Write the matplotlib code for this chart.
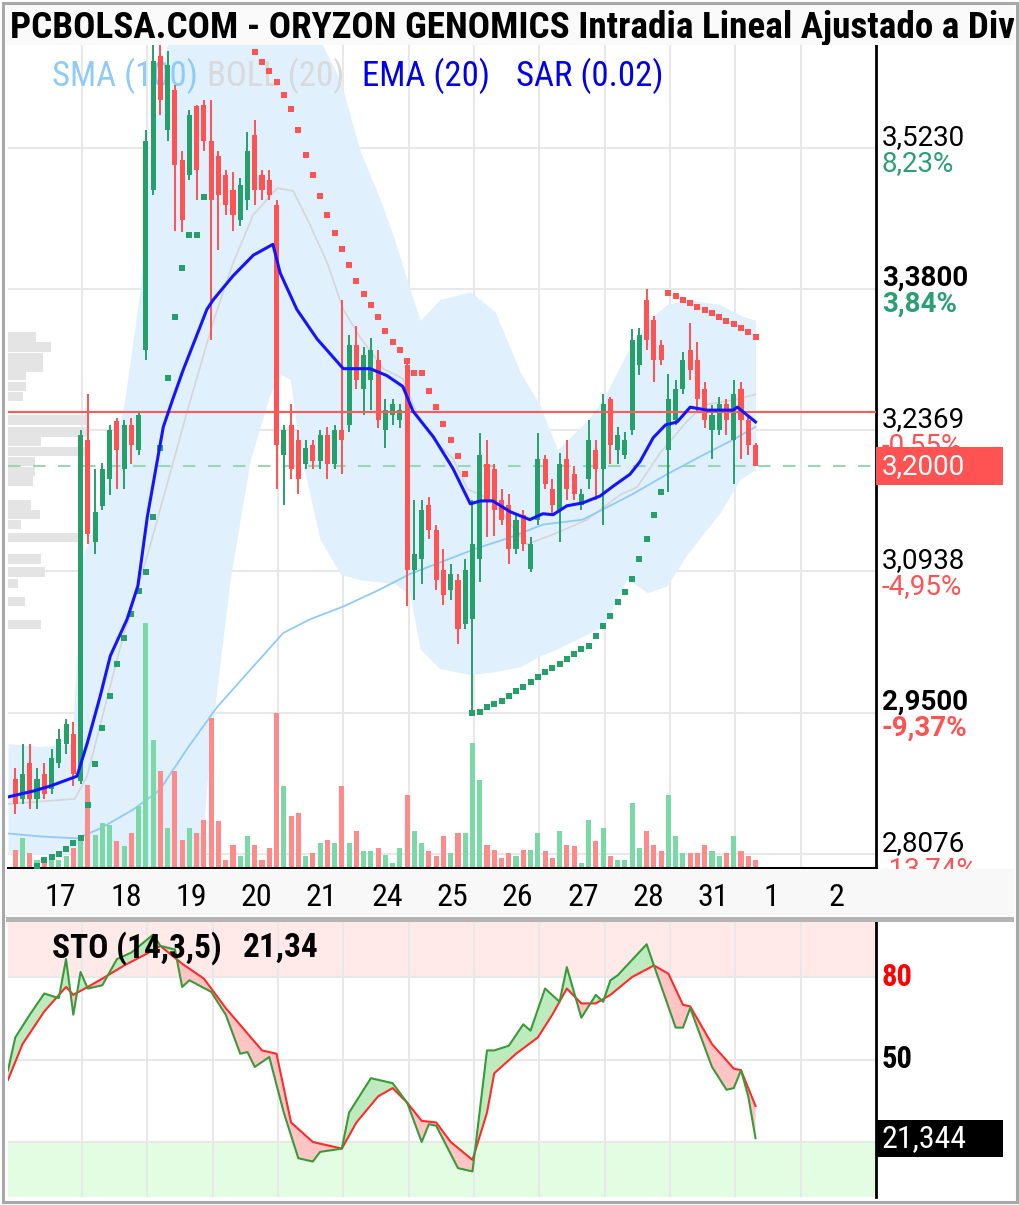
import numpy as np
import matplotlib
matplotlib.use("Agg")
import matplotlib.pyplot as plt
import matplotlib.transforms as mtransforms
from matplotlib.patches import Rectangle

plt.rcParams['font.family'] = ['Roboto', 'DejaVu Sans']
COND = ['Roboto Condensed', 'Roboto', 'DejaVu Sans']

TITLE = "PCBOLSA.COM - ORYZON GENOMICS Intradia Lineal Ajustado a Div"
DAYS = ['17', '18', '19', '20', '21', '24', '25', '26', '27', '28', '31', '1', '2']
BARS_PER_DAY = 9

# velas horarias (17 .. 1)
OPEN = [2.883, 2.863, 2.899, 2.863, 2.888, 2.873, 2.899, 2.919, 2.929,
        2.881, 3.227, 3.123, 3.160, 3.187, 3.246, 3.197, 3.242, 3.217,
        3.318, 3.480, 3.616, 3.541, 3.581, 3.510, 3.495, 3.565, 3.566,
        3.530, 3.515, 3.495, 3.480, 3.450, 3.470, 3.536, 3.495, 3.490,
        3.465, 3.212, 3.242, 3.227, 3.202, 3.222, 3.205, 3.232, 3.202,
        3.237, 3.242, 3.323, 3.278, 3.288, 3.308, 3.237, 3.252, 3.247,
        3.303, 3.095, 3.106, 3.161, 3.136, 3.095, 3.075, 3.085, 3.040,
        3.045, 3.106, 3.202, 3.197, 3.166, 3.161, 3.116, 3.151, 3.096,
        3.146, 3.207, 3.177, 3.156, 3.207, 3.192, 3.161, 3.187, 3.217,
        3.197, 3.268, 3.217, 3.212, 3.237, 3.303, 3.369, 3.348, 3.323,
        3.217, 3.247, 3.278, 3.318, 3.308, 3.278, 3.237, 3.237, 3.263,
        3.227, 3.278, 3.247, 3.222]
HIGH = [2.894, 2.919, 2.919, 2.894, 2.899, 2.914, 2.934, 2.944, 2.941,
        3.237, 3.273, 3.197, 3.203, 3.242, 3.249, 3.247, 3.249, 3.255,
        3.541, 3.640, 3.640, 3.621, 3.586, 3.520, 3.561, 3.566, 3.571,
        3.571, 3.520, 3.500, 3.498, 3.492, 3.539, 3.551, 3.500, 3.500,
        3.470, 3.242, 3.263, 3.237, 3.227, 3.227, 3.237, 3.240, 3.242,
        3.369, 3.333, 3.342, 3.321, 3.330, 3.318, 3.268, 3.268, 3.263,
        3.308, 3.166, 3.166, 3.169, 3.141, 3.116, 3.101, 3.091, 3.106,
        3.166, 3.234, 3.227, 3.202, 3.177, 3.172, 3.153, 3.156, 3.128,
        3.234, 3.212, 3.187, 3.214, 3.227, 3.200, 3.177, 3.247, 3.227,
        3.273, 3.270, 3.240, 3.235, 3.339, 3.340, 3.380, 3.352, 3.328,
        3.294, 3.288, 3.316, 3.345, 3.326, 3.286, 3.262, 3.270, 3.268,
        3.288, 3.286, 3.251, 3.224]
LOW = [2.848, 2.858, 2.853, 2.853, 2.863, 2.868, 2.894, 2.909, 2.876,
       2.878, 3.121, 3.111, 3.156, 3.171, 3.177, 3.177, 3.202, 3.212,
       3.308, 3.475, 3.556, 3.530, 3.439, 3.437, 3.490, 3.470, 3.520,
       3.328, 3.419, 3.455, 3.439, 3.444, 3.460, 3.465, 3.470, 3.470,
       3.177, 3.161, 3.187, 3.172, 3.197, 3.197, 3.197, 3.187, 3.197,
       3.192, 3.235, 3.278, 3.252, 3.257, 3.239, 3.219, 3.242, 3.239,
       3.058, 3.065, 3.081, 3.126, 3.075, 3.060, 3.065, 3.020, 3.035,
       2.952, 3.083, 3.128, 3.129, 3.141, 3.101, 3.111, 3.114, 3.093,
       3.141, 3.177, 3.151, 3.123, 3.166, 3.166, 3.156, 3.177, 3.166,
       3.141, 3.202, 3.202, 3.207, 3.232, 3.293, 3.318, 3.285, 3.303,
       3.174, 3.242, 3.273, 3.288, 3.255, 3.239, 3.207, 3.232, 3.232,
       3.182, 3.207, 3.212, 3.200]
CLOSE = [2.858, 2.888, 2.863, 2.883, 2.868, 2.904, 2.924, 2.939, 2.888,
         3.232, 3.131, 3.154, 3.197, 3.237, 3.217, 3.242, 3.222, 3.252,
         3.530, 3.611, 3.571, 3.607, 3.505, 3.450, 3.556, 3.500, 3.530,
         3.470, 3.475, 3.465, 3.455, 3.485, 3.520, 3.480, 3.480, 3.475,
         3.222, 3.237, 3.197, 3.187, 3.219, 3.205, 3.232, 3.202, 3.237,
         3.227, 3.323, 3.288, 3.313, 3.318, 3.247, 3.257, 3.263, 3.257,
         3.095, 3.111, 3.156, 3.136, 3.085, 3.070, 3.091, 3.035, 3.095,
         3.121, 3.212, 3.166, 3.156, 3.146, 3.116, 3.146, 3.121, 3.121,
         3.207, 3.182, 3.161, 3.202, 3.177, 3.172, 3.172, 3.227, 3.197,
         3.263, 3.222, 3.232, 3.227, 3.328, 3.333, 3.328, 3.308, 3.308,
         3.268, 3.278, 3.308, 3.298, 3.268, 3.247, 3.252, 3.263, 3.247,
         3.273, 3.247, 3.222, 3.200]
VOLUME = [18, 30, 15, 8, 8, 10, 8, 12, 20,
          31, 83, 33, 45, 43, 27, 22, 35, 62,
          245, 128, 97, 40, 97, 28, 40, 35, 48,
          150, 47, 8, 23, 12, 32, 23, 8, 20,
          155, 82, 52, 55, 12, 15, 25, 28, 25,
          82, 25, 37, 17, 17, 20, 13, 5, 20,
          73, 37, 25, 17, 12, 32, 15, 35, 35,
          125, 88, 23, 18, 10, 15, 12, 18, 18,
          35, 17, 10, 37, 23, 22, 5, 48, 27,
          40, 12, 8, 8, 65, 20, 37, 23, 17,
          73, 32, 15, 15, 15, 23, 17, 12, 15,
          32, 17, 12, 8]

# SAR (0.02): primer indice de cada tramo y valores
SAR_UP1_START = 3
SAR_UP1 = [2.795, 2.801, 2.804, 2.807, 2.812, 2.818, 2.823, 2.857, 2.898, 2.935,
           2.967, 3.000, 3.026, 3.050, 3.074, 3.093, 3.149, 3.219, 3.290, 3.351,
           3.401, 3.434, 3.434, 3.473]
SAR_DN1_START = 33
SAR_DN1 = [3.620, 3.610, 3.601, 3.589, 3.576, 3.562, 3.541, 3.516, 3.495, 3.474,
           3.455, 3.436, 3.420, 3.404, 3.388, 3.375, 3.364, 3.351, 3.337, 3.326,
           3.318, 3.307, 3.295, 3.295, 3.276, 3.260, 3.243, 3.227, 3.211, 3.192]
SAR_UP2_START = 63
SAR_UP2 = [2.950, 2.951, 2.956, 2.959, 2.962, 2.967, 2.972, 2.976, 2.981, 2.987,
           2.992, 2.996, 3.000, 3.005, 3.010, 3.015, 3.018, 3.028, 3.038, 3.048,
           3.063, 3.073, 3.086, 3.106, 3.126, 3.151, 3.174]
SAR_DN2_START = 90
SAR_DN2 = [3.376, 3.373, 3.369, 3.366, 3.362, 3.358, 3.355, 3.351, 3.347, 3.344,
           3.340, 3.336, 3.331]

EMA_T = [-1.0, 2.5, 4.8, 8.5, 9.9, 11.7, 13.1, 15.4, 16.9, 18.2, 19.5, 20.4, 21.7,
         23.1, 25.5, 26.4, 27.3, 30.0, 32.8, 35.5, 36.5, 38.8, 41.6, 45.2, 48.9,
         51.2, 53.4, 54.8, 57.6, 60.3, 62.7, 64.1, 65.8, 68.2, 70.9, 72.7, 74.1,
         76.0, 78.2, 80.6, 82.4, 84.7, 86.1, 87.9, 89.6, 91.2, 93.0, 95.3, 98.9,
         99.5, 102.0]
EMA_V = [2.865, 2.871, 2.876, 2.886, 2.919, 2.967, 3.008, 3.045, 3.079, 3.149, 3.203,
         3.240, 3.268, 3.297, 3.342, 3.359, 3.369, 3.393, 3.414, 3.425, 3.396, 3.359,
         3.329, 3.299, 3.299, 3.292, 3.281, 3.256, 3.230, 3.198, 3.162, 3.165, 3.165,
         3.154, 3.146, 3.152, 3.151, 3.160, 3.163, 3.170, 3.180, 3.192, 3.205, 3.229,
         3.242, 3.245, 3.260, 3.257, 3.257, 3.260, 3.245]

SMA_T = [-1.0, 3.4, 8.5, 11.7, 16.2, 19.9, 23.7, 27.8, 32.4, 36.9, 40.6, 45.2,
         49.9, 54.4, 59.0, 63.6, 68.2, 72.7, 78.2, 85.1, 89.8, 94.4, 98.9, 102.0]
SMA_V = [2.828, 2.825, 2.823, 2.833, 2.852, 2.872, 2.914, 2.956, 2.994, 3.031, 3.045,
         3.058, 3.074, 3.091, 3.104, 3.117, 3.128, 3.141, 3.146, 3.172, 3.192, 3.210,
         3.227, 3.240]

MID_T = [-1.0, 8.2, 9.9, 14.4, 18.6, 23.7, 27.3, 30.0, 32.8, 36.1, 38.3, 40.6, 43.0,
         45.2, 47.5, 50.7, 53.4, 55.8, 58.1, 60.3, 62.3, 65.8, 68.6, 70.5, 74.1, 78.8,
         83.3, 85.7, 88.9, 92.6, 94.8, 99.5, 102.0]
MID_V = [2.858, 2.863, 2.886, 3.015, 3.120, 3.256, 3.347, 3.406, 3.455, 3.482, 3.479,
         3.445, 3.406, 3.359, 3.331, 3.299, 3.289, 3.245, 3.224, 3.208, 3.177, 3.165,
         3.138, 3.121, 3.131, 3.146, 3.171, 3.179, 3.214, 3.246, 3.262, 3.268, 3.273]

BAND_T = [-1.0, 3.4, 7.8, 9.2, 11.0, 13.1, 15.1, 17.2, 18.6, 20.0, 21.4, 25.5, 26.8,
          29.6, 32.4, 35.1, 36.5, 37.9, 39.2, 42.0, 44.8, 47.5, 50.3, 52.3, 54.4,
          55.8, 58.5, 62.7, 66.1, 69.6, 72.3, 74.7, 78.8, 81.0, 84.3, 87.1, 89.8,
          92.6, 97.1, 99.9, 102.0]
BAND_UP = [2.919, 2.916, 2.919, 3.106, 3.146, 3.197, 3.268, 3.379, 3.520, 3.581,
           3.652, 3.652, 3.652, 3.652, 3.652, 3.652, 3.652, 3.652, 3.652, 3.632,
           3.591, 3.520, 3.470, 3.429, 3.379, 3.348, 3.369, 3.377, 3.357, 3.295,
           3.262, 3.217, 3.246, 3.268, 3.315, 3.347, 3.364, 3.369, 3.364, 3.353,
           3.348]
BAND_LO = [2.807, 2.807, 2.808, 2.782, 2.762, 2.762, 2.762, 2.762, 2.762, 2.762,
           2.762, 2.792, 2.914, 3.085, 3.207, 3.273, 3.293, 3.288, 3.217, 3.126,
           3.091, 3.085, 3.083, 3.081, 3.070, 3.015, 2.995, 2.989, 2.992, 2.997,
           3.008, 3.015, 3.030, 3.038, 3.086, 3.072, 3.079, 3.111, 3.153, 3.187,
           3.197]

# perfil de volumen por precio
PROFILE_P = [3.331, 3.321, 3.310, 3.300, 3.292, 3.281, 3.271, 3.247, 3.235, 3.225,
             3.215, 3.205, 3.195, 3.185, 3.161, 3.151, 3.141, 3.128, 3.106, 3.093,
             3.081, 3.063, 3.040]
PROFILE_V = [28, 43, 35, 35, 18, 18, 15, 80, 80, 33, 78, 27, 27, 25, 23, 32, 13, 75,
             33, 37, 10, 17, 33]

# estocastico (14,3,5)
K_T = [-1, 0, 2, 4, 6, 7, 8, 9, 10, 12, 14, 16, 19, 20, 22, 23, 24, 27, 29, 31, 32,
       33, 35, 37, 39, 41, 42, 45, 46, 49, 52, 54, 56, 57, 58, 61, 63, 65, 66, 68,
       70, 71, 73, 75, 76, 78, 80, 81, 82, 83, 87, 88, 91, 92, 93, 96, 98, 99, 100,
       101, 102]
K_V = [46.1, 58, 66.3, 74, 72.3, 86.5, 66.3, 81.8, 75.8, 77, 86.5, 88.9, 95.4, 91.3,
       90, 76.4, 78.8, 74.6, 66.3, 52.1, 52.7, 47.3, 50.9, 30.7, 14.1, 12.9, 16.4,
       17.6, 30.7, 43.2, 41.4, 34.3, 20, 26.5, 25.9, 10.5, 9.3, 53.3, 53.3, 55, 62.8,
       60.5, 75.8, 71, 83.6, 65.2, 73.5, 71, 78.8, 80.6, 91.9, 84.2, 61.6, 61.6, 68.7,
       47.3, 39, 39.6, 46.1, 36.6, 21.344]
D_T = [-1, 1, 4, 7, 8, 10, 12, 15, 18, 20, 23, 26, 29, 34, 36, 38, 41, 45, 47, 50,
       52, 54, 56, 58, 60, 63, 65, 66, 69, 72, 74, 76, 78, 80, 82, 85, 88, 90, 92,
       93, 96, 99, 100, 102]
D_V = [42.6, 55.6, 67.5, 76.4, 73.5, 76.4, 79.4, 84.2, 88.3, 91.3, 84.8, 79.4, 68.7,
       53.3, 52.1, 27.1, 20, 17.6, 27.1, 36.6, 39.6, 34.3, 27.7, 27.1, 20, 13.5, 30.7,
       45, 52.1, 58, 66.3, 75.8, 70.4, 70.4, 73.5, 80, 84.2, 81.2, 69.9, 69.3, 55.6,
       46.7, 46.1, 33.1]

PRICE_LEVELS = [3.5230, 3.3800, 3.2369, 3.0938, 2.9500, 2.8076]
PCT_LABELS = ['8,23%', '3,84%', '-0,55%', '-4,95%', '-9,37%', '-13,74%']
BOLD_LEVELS = [False, True, False, False, True, False]
REF_CLOSE = 3.2548
LAST = 3.2000

GREEN = '#26a06b'
RED = '#ff5252'
VGREEN = '#7ad9a6'
VRED = '#ff8a8a'

# ---------------------------------------------------------------
W, H = 1020, 1205
fig = plt.figure(figsize=(W / 100, H / 100), dpi=100)


def box(x0, y0, x1, y1):
    return [x0 / W, 1 - y1 / H, (x1 - x0) / W, (y1 - y0) / H]


XLIM = (-1.0, 118.6)
YLIM = (2.793, 3.627)
PRICE_PX = 823
BAR_PX = 7.256

price_rect = box(8, 45, 876, 868)
bg = fig.add_axes(price_rect, zorder=1)
vax = bg.twinx()
vax.set_zorder(2)
vax.patch.set_visible(False)
ax = fig.add_axes(price_rect, zorder=3, sharex=bg, sharey=bg)
ax.patch.set_visible(False)
sax = fig.add_axes(box(8, 922, 876, 1197), zorder=1, sharex=bg)

for a in (bg, vax, ax, sax):
    a.tick_params(left=False, right=False, bottom=False, top=False,
                  labelleft=False, labelright=False, labelbottom=False)
    for s in a.spines.values():
        s.set_visible(False)

bg.set_xlim(*XLIM)
bg.set_ylim(*YLIM)

# rejilla
day_start = [BARS_PER_DAY * d + 0.2 for d in range(len(DAYS))]
for xs in day_start[1:]:
    bg.axvline(xs, color='#e8e8e8', lw=1.5, zorder=0)
    sax.axvline(xs, color='#e8e8e8', lw=1.5, zorder=1)
for lv in PRICE_LEVELS:
    bg.axhline(lv, color='#e8e8e8', lw=1.5, zorder=0)

# bandas de bollinger, medias
bg.fill_between(BAND_T, BAND_LO, BAND_UP, color='#e0f0fc', lw=0, zorder=1)
bg.barh(PROFILE_P, np.array(PROFILE_V) / BAR_PX, height=0.0095, left=XLIM[0],
        color='#e4e4e4', lw=0, zorder=2)
bg.plot(MID_T, MID_V, color='#d6d6d6', lw=1.2, zorder=3)
bg.plot(SMA_T, SMA_V, color='#90caf9', lw=1.3, zorder=3)

# leyenda (queda por debajo de las velas)
legend = [('SMA (100)', '#90caf9', 52), ('BOLL (20)', '#d9d9d9', 207),
          ('EMA (20)', '#0000ee', 362), ('SAR (0.02)', '#0000ee', 516)]
for txt, col, px in legend:
    bg.text((px - 8) / 868, 0.963, txt, transform=bg.transAxes, color=col,
            fontsize=25, family=COND, va='center', ha='left', zorder=8)

# volumen
o = np.array(OPEN)
c = np.array(CLOSE)
up = c >= o
x = np.arange(len(CLOSE))
vax.bar(x, VOLUME, width=0.7, color=np.where(up, VGREEN, VRED), lw=0)
vax.set_ylim(0, PRICE_PX)

# velas
ccol = np.where(up, GREEN, RED)
ax.vlines(x, LOW, HIGH, colors=ccol, lw=1.4, zorder=3)
body = np.maximum(np.abs(c - o), 0.002)
ax.bar(x, body, bottom=np.minimum(o, c), width=0.7, color=ccol, lw=0, zorder=3)

ax.axhline(REF_CLOSE, color='#ff5a5a', lw=1.5, zorder=4)
ax.axhline(LAST, color='#9ad6b4', lw=1.5, ls=(0, (6, 6)), zorder=2)

for start, vals, col in ((SAR_UP1_START, SAR_UP1, GREEN), (SAR_DN1_START, SAR_DN1, RED),
                         (SAR_UP2_START, SAR_UP2, GREEN), (SAR_DN2_START, SAR_DN2, RED)):
    ax.plot(np.arange(start, start + len(vals)), vals, ls='none', marker='s', ms=4.8,
            mew=0, color=col, zorder=4)

ax.plot(EMA_T, EMA_V, color='#1414ff', lw=2.2, zorder=5)

ax.spines['right'].set_visible(True)
ax.spines['right'].set_linewidth(2)
ax.spines['bottom'].set_visible(True)
ax.spines['bottom'].set_linewidth(2.2)

# etiquetas de precio a la derecha
blend = mtransforms.blended_transform_factory(ax.transAxes, ax.transData)
for lv, pct, bold in zip(PRICE_LEVELS, PCT_LABELS, BOLD_LEVELS):
    w = 'bold' if bold else 'normal'
    ax.annotate(f"{lv:.4f}".replace('.', ','), xy=(1, lv), xycoords=blend,
                xytext=(6, 3), textcoords='offset pixels', ha='left', va='baseline',
                fontsize=20, fontweight=w, color='black', annotation_clip=False)
    ax.annotate(pct, xy=(1, lv), xycoords=blend, xytext=(6, -2),
                textcoords='offset pixels', ha='left', va='top', fontsize=20,
                fontweight=w, color='#2b9e74' if lv > REF_CLOSE else '#ff5252',
                annotation_clip=False)

ppx = (YLIM[1] - YLIM[0]) / PRICE_PX
ax.add_patch(Rectangle((1.0, LAST - 19 * ppx), 127 / 868, 38 * ppx, transform=blend,
                       fc='#ff5252', ec='none', clip_on=False, zorder=6))
ax.annotate(f"{LAST:.4f}".replace('.', ','), xy=(1, LAST), xycoords=blend,
            xytext=(6, 0), textcoords='offset pixels', ha='left', va='center',
            fontsize=20, color='white', annotation_clip=False, zorder=7)

# estocastico
sax.set_ylim(0, 100)
sax.axhspan(80, 100, color='#ffe9e9', lw=0, zorder=0)
sax.axhspan(0, 20, color='#e3fde3', lw=0, zorder=0)
for lv in (80, 50, 20):
    sax.axhline(lv, color='#e8e8e8', lw=1.5, zorder=1)
xs = np.linspace(min(K_T), max(K_T), 1500)
kk = np.interp(xs, K_T, K_V)
dd = np.interp(xs, D_T, D_V)
sax.fill_between(xs, kk, dd, where=kk >= dd, interpolate=True, color='#bdebbd', lw=0, zorder=2)
sax.fill_between(xs, kk, dd, where=kk < dd, interpolate=True, color='#ffc4c4', lw=0, zorder=2)
sax.plot(D_T, D_V, color='#ff2a2a', lw=1.5, zorder=3)
sax.plot(K_T, K_V, color='#3a9a3a', lw=1.5, zorder=3)
sax.spines['right'].set_visible(True)
sax.spines['right'].set_linewidth(2)

sax.text((52 - 8) / 868, 0.905, 'STO (14,3,5)', transform=sax.transAxes, fontsize=24,
         fontweight='bold', family=COND, va='center', ha='left')
sax.text((243 - 8) / 868, 0.905, f"{K_V[-1]:.2f}".replace('.', ','), transform=sax.transAxes,
         fontsize=24, fontweight='bold', family=COND, va='center', ha='left')

sblend = mtransforms.blended_transform_factory(sax.transAxes, sax.transData)
sax.text(1 + 6 / 868, 80, '80', transform=sblend, color='#ff0000', fontsize=22,
         fontweight='bold', family=COND, va='center', ha='left')
sax.text(1 + 6 / 868, 50, '50', transform=sblend, color='black', fontsize=22,
         fontweight='bold', family=COND, va='center', ha='left')
sax.add_patch(Rectangle((1.0, K_V[-1] - 6.8), 127 / 868, 13.6, transform=sblend,
                        fc='black', ec='none', clip_on=False, zorder=6))
sax.text(1 + 6 / 868, K_V[-1], f"{K_V[-1]:.3f}".replace('.', ','), transform=sblend,
         color='white', fontsize=23, family=COND, va='center', ha='left', zorder=7)

# franja de fechas
fig.add_artist(Rectangle((6 / W, 1 - 916 / H), 1008 / W, 47 / H, transform=fig.transFigure,
                         fc='#f8f8f8', ec='none', zorder=5))
fig.add_artist(Rectangle((6 / W, 1 - 922 / H), 1008 / W, 5 / H, transform=fig.transFigure,
                         fc='#b4b4b4', ec='none', zorder=5))
dblend = mtransforms.blended_transform_factory(bg.transData, fig.transFigure)
for d, lab in enumerate(DAYS):
    fig.text(day_start[d] + 28 / BAR_PX, 1 - 897 / H, lab, transform=dblend,
             fontsize=23, family=COND, ha='left', va='center', zorder=6)

# titulo
tax = fig.add_axes(box(6, 5, 1014, 45), zorder=4)
tax.set_facecolor('#fafafa')
tax.set_xticks([])
tax.set_yticks([])
for s in tax.spines.values():
    s.set_visible(False)
tax.text(4 / 1008, 0.42, TITLE, transform=tax.transAxes, fontsize=26.7, fontweight='bold',
         family=COND, va='center', ha='left', clip_on=True)

fig.add_artist(Rectangle((3 / W, 3 / H), 1 - 6 / W, 1 - 6 / H, transform=fig.transFigure,
                         fill=False, ec='#a8a8a8', lw=2.2, zorder=10))

fig.savefig('out.png', dpi=100, facecolor='white')
